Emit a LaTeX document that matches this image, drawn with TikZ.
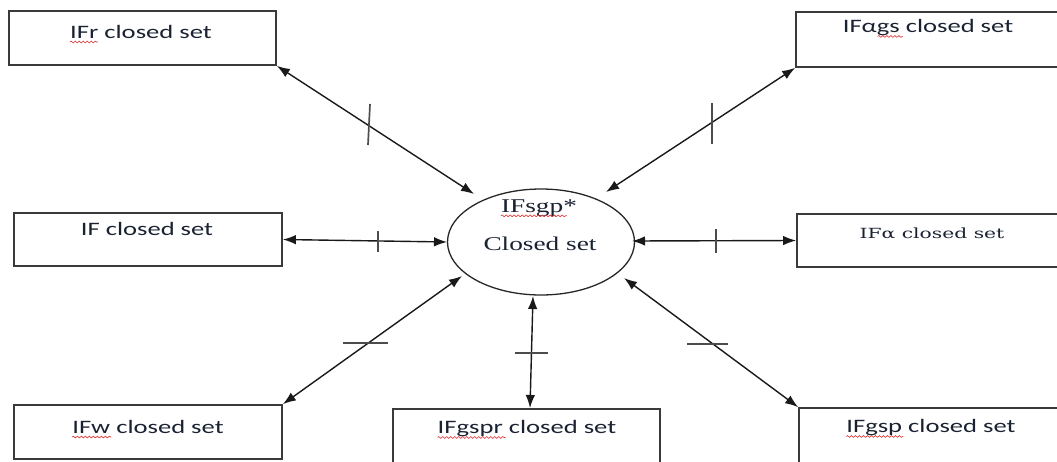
\documentclass[tikz,border=0pt]{standalone}
\usepackage{fontspec}
\newfontfamily\boxfont[FakeStretch=1.4]{Carlito}
\newfontfamily\alphafont[FakeStretch=1.45]{DejaVu Serif}
\newfontfamily\hubfont[FakeStretch=1.4]{Liberation Serif}
\usetikzlibrary{arrows.meta,decorations.pathmorphing,shapes.geometric}
\definecolor{ink}{HTML}{1A2232}
\definecolor{frame}{HTML}{3A3A3A}
\definecolor{squig}{HTML}{E03030}
\begin{document}
\begin{tikzpicture}[x=1pt,y=-1pt,
  box/.style={draw=frame,line width=1.7pt,rectangle,inner sep=0pt},
  boxlabel/.style={inner sep=0pt,text=ink,font=\boxfont\fontsize{19}{22}\selectfont},
  hublabel/.style={inner sep=0pt,text=ink,font=\hubfont\fontsize{19.5}{22}\selectfont},
  link/.style={line width=1.4pt,draw=black!90,
    {Latex[length=13pt,width=9.5pt]}-{Latex[length=13pt,width=9.5pt]}},
  tickmark/.style={line width=1.7pt,draw=black!70},
  squiggle/.style={draw=squig,line width=0.6pt,decorate,
    decoration={snake,segment length=4pt,amplitude=0.9pt}}]
\useasboundingbox (0,0) rectangle (1057,461);
\clip (0,0) rectangle (1057,461);

% frames
\node[box,minimum width=267,minimum height=54] (r)    at (142.5,38)  {};
\node[box,minimum width=269,minimum height=55] (a)    at (930.5,39.5) {};
\node[box,minimum width=268,minimum height=53] (f)    at (148,239.5) {};
\node[box,minimum width=268,minimum height=53] (al)   at (931,240.5) {};
\node[box,minimum width=268,minimum height=54] (w)    at (148,432)   {};
\node[box,minimum width=267,minimum height=66] (gspr) at (526.5,442) {};
\node[box,minimum width=268,minimum height=67] (gsp)  at (933,441.5) {};

% labels inside the frames
\node[boxlabel] (rt)    at (141,32)  {IFr closed set};
\node[boxlabel] (at)    at (928,28)  {IFαgs closed set};
\node[boxlabel] (ft)    at (147,229) {IF closed set};
\node[inner sep=0pt,text=ink,font=\alphafont\fontsize{14}{17}\selectfont] (alt) at (932,233) {IFα closed set};
\node[boxlabel] (wt)    at (148,427) {IFw closed set};
\node[boxlabel] (gsprt) at (527,429) {IFgspr closed set};
\node[boxlabel] (gspt)  at (931,428) {IFgsp closed set};

% central set
\node[ellipse,draw=black!85,line width=1.3pt,minimum width=187,minimum height=106,inner sep=0pt] (c) at (541,242) {};
\node[hublabel] (h1) at (539,208) {IFsgp*};
\node[hublabel] (h2) at (540,244) {Closed set};

% spelling marks
\draw[squiggle] ([yshift=-3.5pt]rt.base west) -- ++(28,0);
\draw[squiggle] ([xshift=35pt,yshift=-3.5pt]at.base west) -- ++(25,0);
\draw[squiggle] ([yshift=-3.5pt]wt.base west) -- ++(39,0);
\draw[squiggle] ([yshift=-3.5pt]gsprt.base west) -- ++(68,0);
\draw[squiggle] ([yshift=-3.5pt]gspt.base west) -- ++(57,0);
\draw[squiggle] ([yshift=-3.5pt]h1.base west) -- ++(66,0);

% arrow ends near the central set
\coordinate (e1) at (474,194);
\coordinate (e2) at (606,192);
\coordinate (e3) at (447,242);
\coordinate (e4) at (632,241);
\coordinate (e5) at (462,276);
\coordinate (e6) at (533,296);
\coordinate (e7) at (624,278);
\coordinate (b6) at (530,408);

% connectors
\draw[link] (r.south east) -- (e1);
\draw[link] (a.south west) -- (e2);
\draw[link] (f.east) -- (e3);
\draw[link] (e4) -- (al.west);
\draw[link] (w.north east) -- (e5);
\draw[link] (e6) -- (b6);
\draw[link] (e7) -- (gsp.north west);

% strokes across the connectors
\draw[tickmark] (370,104) -- (368,145);
\draw[tickmark] (712,103) -- (712,144);
\draw[tickmark] (378,231) -- (378,252);
\draw[tickmark] (716,229) -- (716,253);
\draw[tickmark] (343,343) -- (388,343);
\draw[tickmark] (515,353) -- (548,353);
\draw[tickmark] (687,344) -- (728,344);
\end{tikzpicture}
\end{document}
